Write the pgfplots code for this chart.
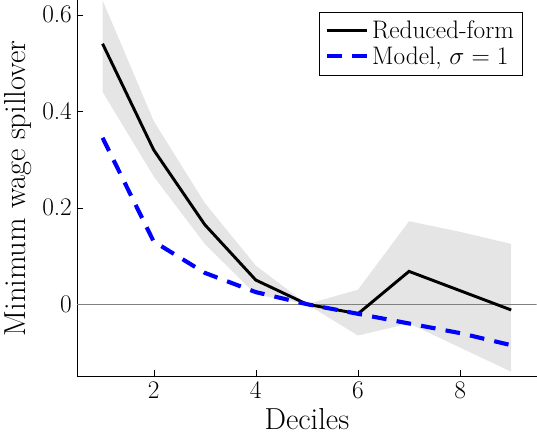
\documentclass[border=0pt]{standalone}
\usepackage{pgfplots}
\pgfplotsset{compat=1.18}
\usepgfplotslibrary{fillbetween}
\begin{document}
\begin{tikzpicture}
\begin{axis}[width=12.6cm,height=10.6cm,
 xmin=0.5,xmax=9.5,ymin=-0.15,ymax=0.63,
 axis x line*=bottom, axis y line*=left, axis line style={-},
 xtick={2,4,6,8}, ytick={0,0.2,0.4,0.6},
 yticklabels={0,0.2,0.4,0.6},
 tick align=inside, tick style={black},
 xlabel={\huge Deciles}, ylabel={\huge Minimum wage spillover},
 ticklabel style={font=\LARGE},
 legend style={at={(0.97,0.97)},anchor=north east,font=\LARGE,cells={anchor=west},legend image post style={xscale=1.6},inner sep=4pt},
]
\addplot[name path=U,draw=none,forget plot] coordinates {(1,0.63)(2,0.38)(3,0.21)(4,0.08)(5,0)(6,0.03)(7,0.172)(8,0.15)(9,0.125)};
\addplot[name path=L,draw=none,forget plot] coordinates {(1,0.44)(2,0.265)(3,0.125)(4,0.02)(5,0)(6,-0.065)(7,-0.04)(8,-0.09)(9,-0.14)};
\addplot[gray!20,forget plot] fill between[of=U and L];
\addplot[gray,thick,forget plot] coordinates {(0.5,0)(9.5,0)};
\addplot[black,line width=2pt] coordinates {(1,0.54)(2,0.32)(3,0.165)(4,0.05)(5,0)(6,-0.02)(7,0.068)(8,0.028)(9,-0.012)};
\addplot[blue,line width=2.8pt,dash pattern=on 10pt off 7pt] coordinates {(1,0.345)(2,0.13)(3,0.065)(4,0.025)(5,0)(6,-0.02)(7,-0.04)(8,-0.06)(9,-0.085)};
\legend{Reduced-form,{Model, $\sigma=1$}}
\end{axis}
\end{tikzpicture}
\end{document}
